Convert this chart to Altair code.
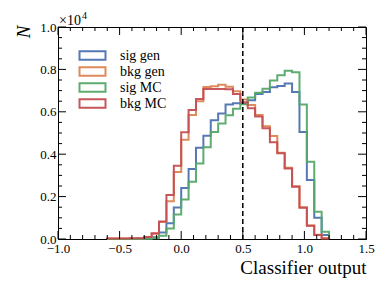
import altair as alt
import pandas as pd

# ---- data ----
bin_edges = [-0.60, -0.54, -0.48, -0.42, -0.36, -0.30, -0.24, -0.18, -0.12, -0.06,
             0.00, 0.06, 0.12, 0.18, 0.24, 0.30, 0.36, 0.42, 0.48, 0.54,
             0.60, 0.66, 0.72, 0.78, 0.84, 0.90, 0.96, 1.02, 1.08, 1.14, 1.20]

series_names = ["sig gen", "bkg gen", "sig MC", "bkg MC"]
series_colors = ["#4C72B0", "#DD8452", "#55A868", "#C44E52"]

sig_gen = [0, 0, 0, 0, 0, 20, 80, 310, 740, 1480, 2400, 3300, 4300, 4870, 5600,
           5920, 6340, 6400, 6380, 6550, 6840, 6930, 7160, 7220, 7330, 6930, 5050,
           2780, 1000, 190]
bkg_gen = [20, 20, 20, 20, 30, 90, 250, 800, 1780, 3160, 4680, 5850, 6500, 7170,
           7210, 7280, 7180, 6970, 6580, 6320, 5850, 5320, 4860, 4070, 3360, 2490,
           1500, 640, 200, 30]
sig_mc = [0, 0, 0, 0, 0, 10, 40, 150, 500, 1150, 1860, 2700, 3560, 4330, 5050,
          5450, 5840, 6140, 6360, 6680, 6900, 7090, 7480, 7720, 7940, 7870, 6340,
          3640, 1280, 340]
bkg_mc = [20, 20, 20, 30, 40, 100, 270, 830, 2070, 3450, 5030, 6090, 6600, 7070,
          7080, 7080, 7060, 6840, 6450, 6170, 5780, 5220, 4560, 4050, 3330, 2470,
          1470, 620, 190, 20]

cut_value = [0.5]

x_major = [-1.0, -0.5, 0.0, 0.5, 1.0, 1.5]
x_minor = [-0.9, -0.8, -0.7, -0.6, -0.4, -0.3, -0.2, -0.1, 0.1, 0.2, 0.3, 0.4,
           0.6, 0.7, 0.8, 0.9, 1.1, 1.2, 1.3, 1.4]
y_major = [0, 2000, 4000, 6000, 8000, 10000]
y_minor = [500, 1000, 1500, 2500, 3000, 3500, 4500, 5000, 5500, 6500, 7000, 7500,
           8500, 9000, 9500]

# ---- build step-outline table ----
rows = []
for name, vals in zip(series_names, [sig_gen, bkg_gen, sig_mc, bkg_mc]):
    rows.append({"series": name, "x": bin_edges[0], "n": 0, "idx": 0})
    for i, v in enumerate(vals):
        rows.append({"series": name, "x": bin_edges[i], "n": v, "idx": i + 1})
    rows.append({"series": name, "x": bin_edges[-1], "n": 0, "idx": len(vals) + 1})
hist = pd.DataFrame(rows)

W, H = 308, 212
FONT = "Liberation Serif"

xscale = alt.Scale(domain=[-1.0, 1.5], nice=False, zero=False)
yscale = alt.Scale(domain=[0, 10000], nice=False)

x_axis = alt.Axis(values=x_major, format=".1f", tickSize=0, grid=False,
                  labelFlush=False, labelPadding=3, labelFontSize=13,
                  title="Classifier output", titleFontSize=19,
                  titleFontWeight="normal", titleAnchor="end",
                  titleAlign="right", titleX=W, titleY=34,
                  titleBaseline="alphabetic")
y_axis = alt.Axis(values=y_major, labelExpr="format(datum.value/10000, '.1f')",
                  tickSize=0, grid=False, labelPadding=2, labelFontSize=13,
                  title="N", titleFontSize=19, titleFontStyle="italic",
                  titleFontWeight="normal", titleAngle=270,
                  titleAlign="right", titleX=-29, titleY=-2,
                  titleBaseline="alphabetic")

lines = alt.Chart(hist).mark_line(interpolate="step-after", strokeWidth=2, opacity=0.95).encode(
    x=alt.X("x:Q", scale=xscale, axis=x_axis),
    y=alt.Y("n:Q", scale=yscale, axis=y_axis),
    color=alt.Color("series:N", scale=alt.Scale(domain=series_names, range=series_colors),
                    legend=alt.Legend(title=None, orient="none", legendX=27, legendY=21,
                                      symbolType="M-2,-0.64L2,-0.64L2,0.64L-2,0.64Z",
                                      symbolSize=169, symbolStrokeWidth=2,
                                      symbolFillColor="transparent",
                                      labelFontSize=14, labelOffset=20,
                                      rowPadding=-3, padding=0)),
    order="idx:Q",
)

cut = alt.Chart(pd.DataFrame({"x": cut_value})).mark_rule(
    color="black", strokeWidth=1.5, strokeDash=[5, 3]).encode(
    x=alt.X("x:Q", scale=xscale, axis=x_axis))


def xticks(vals, length):
    d = pd.DataFrame({"x": vals})
    bottom = alt.Chart(d).mark_rule(color="black", strokeWidth=1).encode(
        x=alt.X("x:Q", scale=xscale, axis=x_axis), y=alt.value(H), y2=alt.value(H - length))
    top = alt.Chart(d).mark_rule(color="black", strokeWidth=1).encode(
        x=alt.X("x:Q", scale=xscale, axis=x_axis), y=alt.value(0), y2=alt.value(length))
    return [bottom, top]


def yticks(vals, length):
    d = pd.DataFrame({"n": vals})
    left = alt.Chart(d).mark_rule(color="black", strokeWidth=1).encode(
        y=alt.Y("n:Q", scale=yscale, axis=y_axis), x=alt.value(0), x2=alt.value(length))
    right = alt.Chart(d).mark_rule(color="black", strokeWidth=1).encode(
        y=alt.Y("n:Q", scale=yscale, axis=y_axis), x=alt.value(W), x2=alt.value(W - length))
    return [left, right]


tick_layers = xticks(x_major, 8) + xticks(x_minor, 4) + yticks(y_major, 8) + yticks(y_minor, 4)

offset_txt = alt.Chart(pd.DataFrame({"t": ["×10"]})).mark_text(
    align="left", baseline="alphabetic", fontSize=14, font=FONT, color="black").encode(
    text="t:N", x=alt.value(1), y=alt.value(-2))
offset_exp = alt.Chart(pd.DataFrame({"t": ["4"]})).mark_text(
    align="left", baseline="alphabetic", fontSize=10, font=FONT, color="black").encode(
    text="t:N", x=alt.value(24), y=alt.value(-8))

chart = alt.layer(lines, cut, *tick_layers, offset_txt, offset_exp).properties(
    width=W, height=H,
    autosize=alt.AutoSizeParams(type="none"),
    padding={"left": 50, "top": 19, "right": 16, "bottom": 46},
).configure(font=FONT).configure_view(
    stroke="black", strokeWidth=1
).configure_axis(
    domainColor="black", domainWidth=1, labelColor="black", titleColor="black",
    labelFont=FONT, titleFont=FONT
).configure_legend(
    labelFont=FONT, labelColor="black"
)

chart.save("out.html", embed_options={"renderer": "svg", "actions": False})
